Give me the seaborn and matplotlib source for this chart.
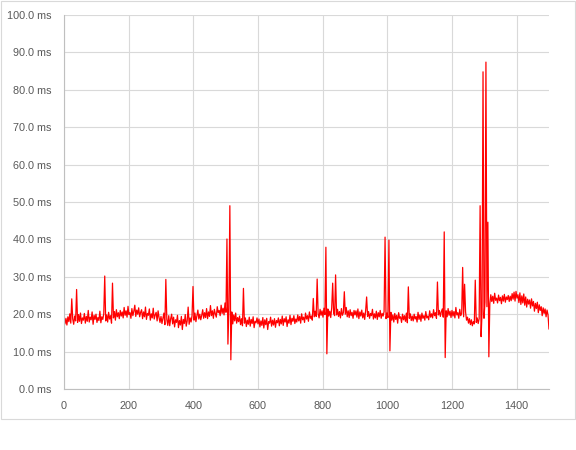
import numpy as np
import pandas as pd
import matplotlib
matplotlib.use('Agg')
import matplotlib.pyplot as plt
from matplotlib.patches import Rectangle
import seaborn as sns

# sample index, one reading every 3 samples
sample_step = 3
sample_max = 1500

# latency readings (ms), 20 readings per 60 samples
latency_ms = [
    19.6, 17.4, 18.9, 17.1, 19.3, 18.0, 20.1, 17.6, 24.1, 18.7, 17.3, 19.5, 18.2, 26.6, 17.8, 19.9, 18.1, 20.3, 17.5, 19.0,
    18.4, 20.2, 17.6, 19.4, 18.1, 21.0, 17.9, 19.2, 18.5, 20.6, 17.3, 19.7, 18.6, 20.0, 17.8, 19.1, 18.3, 20.8, 17.7, 19.3,
    18.6, 20.1, 30.2, 18.2, 19.8, 17.9, 20.5, 18.7, 19.6, 17.6, 28.3, 19.0, 20.7, 18.4, 21.2, 19.3, 20.4, 18.8, 21.0, 19.5,
    20.6, 19.0, 21.8, 19.7, 20.9, 19.2, 22.1, 19.9, 20.4, 18.9, 21.5, 19.6, 20.8, 22.4, 19.4, 21.1, 20.0, 21.7, 19.3, 20.5,
    21.2, 18.8, 20.6, 19.3, 21.9, 18.6, 20.2, 19.7, 21.4, 18.4, 20.1, 19.0, 21.6, 18.7, 19.8, 20.5, 18.2, 20.9, 19.1, 17.8,
    19.4, 17.5, 18.9, 20.3, 17.2, 29.3, 18.6, 17.0, 19.6, 16.9, 18.8, 20.0, 17.4, 19.2, 16.6, 18.5, 17.8, 19.7, 16.4, 18.3,
    17.1, 19.4, 15.9, 18.6, 17.5, 19.9, 16.8, 18.2, 21.9, 17.3, 19.0, 17.9, 19.6, 27.4, 18.4, 20.3, 18.0, 19.5, 21.1, 18.7,
    20.0, 18.5, 19.7, 21.2, 18.9, 20.4, 19.1, 21.5, 18.8, 20.6, 19.4, 22.3, 19.6, 20.9, 18.9, 21.3, 20.1, 19.2, 22.0, 20.4,
    21.0, 19.6, 22.4, 20.2, 21.6, 19.8, 23.0, 20.5, 40.1, 12.0, 21.5, 49.0, 7.8, 20.6, 17.4, 19.8, 18.2, 20.3, 17.6, 19.1,
    18.0, 19.5, 17.2, 18.8, 16.9, 26.9, 17.6, 19.0, 16.7, 18.4, 17.3, 19.2, 16.8, 18.6, 17.5, 19.3, 16.4, 18.1, 17.7, 19.0,
    17.4, 18.7, 16.6, 18.2, 17.0, 19.1, 16.3, 18.5, 17.2, 18.9, 15.9, 18.0, 17.6, 19.2, 16.8, 18.4, 17.1, 18.8, 16.5, 18.3,
    17.7, 19.0, 16.9, 18.6, 17.4, 19.5, 17.0, 18.8, 17.9, 19.3, 16.7, 18.5, 17.6, 19.7, 17.2, 18.9, 18.1, 19.6, 17.5, 18.7,
    17.9, 19.8, 18.2, 19.4, 17.6, 20.1, 18.5, 19.2, 17.8, 20.3, 18.7, 19.6, 18.1, 20.6, 18.9, 19.5, 18.4, 24.2, 19.3, 20.8,
    19.4, 29.4, 20.1, 19.0, 21.3, 19.7, 20.9, 19.2, 21.6, 19.9, 37.9, 9.4, 21.4, 19.5, 20.8, 19.1, 21.7, 28.3, 20.2, 19.6,
    30.5, 19.8, 21.3, 19.4, 20.7, 19.0, 21.5, 19.7, 20.4, 26.0, 20.0, 21.8, 19.3, 20.9, 19.1, 21.2, 19.6, 20.5, 18.9, 21.0,
    19.8, 20.9, 19.2, 21.4, 18.8, 20.6, 19.5, 21.1, 19.0, 20.3, 18.6, 21.0, 24.6, 19.4, 20.7, 18.9, 20.2, 19.6, 21.3, 18.7,
    20.1, 19.0, 20.8, 18.6, 20.4, 19.3, 21.0, 18.9, 20.2, 19.5, 20.7, 40.6, 18.8, 20.3, 19.1, 39.8, 10.2, 20.5, 18.4, 19.8,
    17.9, 20.2, 18.6, 19.7, 17.6, 20.4, 18.9, 19.3, 17.8, 20.0, 18.5, 19.6, 18.1, 20.3, 17.7, 27.3, 18.9, 20.1, 18.3, 19.5,
    18.2, 20.0, 18.7, 19.4, 17.9, 20.5, 18.6, 19.8, 18.1, 20.3, 18.9, 19.6, 18.4, 20.7, 19.0, 19.5, 18.5, 20.9, 19.2, 20.1,
    19.0, 21.2, 19.6, 20.4, 18.9, 28.6, 19.8, 21.0, 19.4, 20.6, 21.4, 19.2, 42.0, 8.4, 20.9, 19.3, 21.5, 19.7, 20.8, 19.1,
    21.0, 19.5, 20.7, 19.0, 21.8, 19.8, 20.4, 18.9, 21.3, 19.6, 20.2, 32.5, 19.3, 28.0, 20.6, 18.4, 19.2, 17.6, 18.8, 17.2,
    18.5, 16.9, 18.0, 17.4, 29.1, 17.8, 19.0, 17.5, 18.8, 49.0, 14.0, 20.6, 84.8, 18.9, 23.2, 87.4, 22.0, 44.6, 8.6, 22.8,
    25.2, 23.4, 24.8, 22.9, 25.6, 23.7, 24.3, 23.0, 25.1, 23.6, 24.5, 22.8, 24.9, 23.5, 25.3, 23.2, 24.6, 23.9, 25.0, 23.4,
    24.8, 23.6, 25.5, 24.0, 25.9, 23.5, 26.1, 24.3, 25.2, 23.1, 25.7, 22.6, 24.9, 23.0, 25.4, 22.4, 24.6, 21.9, 24.0, 22.7,
    23.8, 21.6, 24.1, 22.2, 23.4, 20.8, 22.9, 21.5, 23.2, 20.4, 22.5, 21.0, 22.0, 19.6, 21.7, 20.2, 21.4, 19.3, 21.1, 19.8,
    16.0,
]

y_ticks = [0, 10, 20, 30, 40, 50, 60, 70, 80, 90, 100]
x_ticks = [0, 200, 400, 600, 800, 1000, 1200, 1400]

df = pd.DataFrame({
    'sample': np.arange(0, sample_max + 1, sample_step),
    'latency': latency_ms,
})

sns.set_style('white')
plt.rcParams['font.family'] = ['Liberation Sans', 'DejaVu Sans']

fig = plt.figure(figsize=(5.76, 4.5), dpi=100)
ax = fig.add_axes([0.1111, 0.1356, 0.842, 0.8311])

sns.lineplot(data=df, x='sample', y='latency', color='#ff0000', linewidth=0.9, ax=ax)

ax.set_xlim(0, 1500)
ax.set_ylim(0, 100)
ax.set_xticks(x_ticks)
ax.set_yticks(y_ticks)
ax.set_yticklabels([f'{v:.1f} ms' for v in y_ticks])
ax.set_xlabel('')
ax.set_ylabel('')
ax.grid(True, color='#d9d9d9', linewidth=0.8)
ax.set_axisbelow(True)
ax.tick_params(length=0, labelsize=7.8, labelcolor='#595959')
ax.tick_params(axis='y', pad=9)
ax.tick_params(axis='x', pad=9)

for side in ['top', 'right']:
    ax.spines[side].set_visible(False)
for side in ['left', 'bottom']:
    ax.spines[side].set_color('#bfbfbf')
    ax.spines[side].set_linewidth(0.8)

# outer chart border
fig.patches.append(Rectangle((0.001, 0.0689), 0.997, 0.929, transform=fig.transFigure,
                             fill=False, edgecolor='#d9d9d9', linewidth=0.8))

fig.savefig('out.png', dpi=100)
